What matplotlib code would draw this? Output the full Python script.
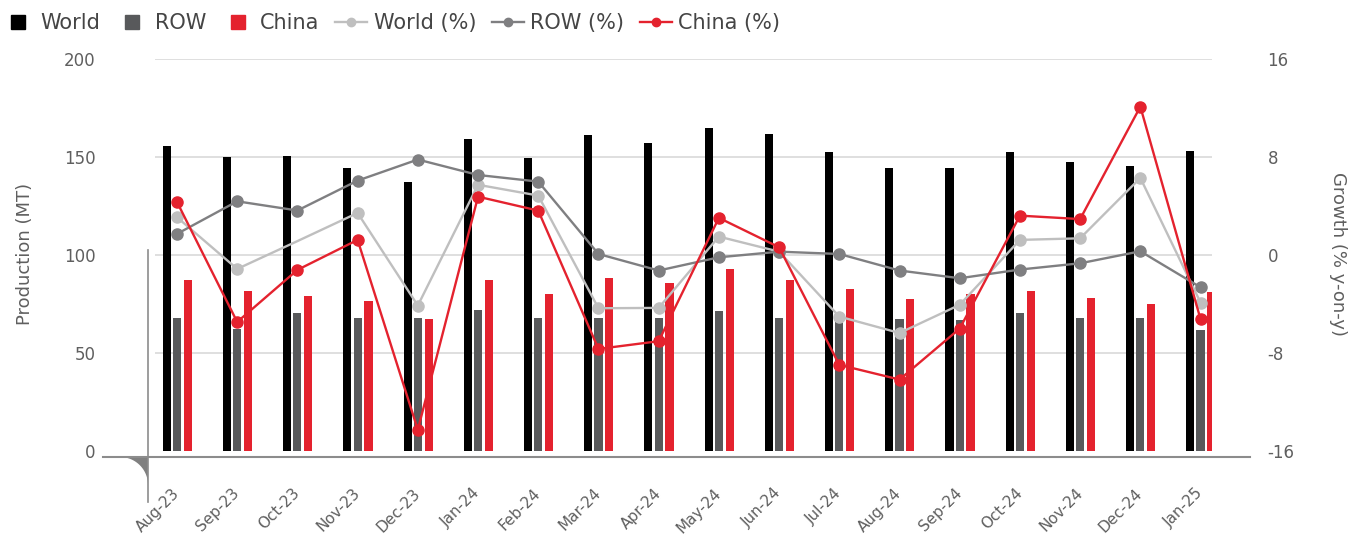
import numpy as np
import matplotlib
matplotlib.use("Agg")
import matplotlib.pyplot as plt
from matplotlib.lines import Line2D
from matplotlib.patches import Polygon

# ---- data -------------------------------------------------------------
months = ["Aug-23", "Sep-23", "Oct-23", "Nov-23", "Dec-23", "Jan-24", "Feb-24",
          "Mar-24", "Apr-24", "May-24", "Jun-24", "Jul-24", "Aug-24", "Sep-24",
          "Oct-24", "Nov-24", "Dec-24", "Jan-25"]

# production, MT
world_prod = [155.4, 149.8, 150.3, 144.2, 137.1, 159.0, 149.3, 161.0, 156.9,
              164.5, 161.5, 152.3, 144.2, 144.2, 152.3, 147.2, 145.2, 152.8]
row_prod = [67.9, 61.8, 70.4, 67.9, 67.9, 71.5, 67.9, 67.9, 67.9,
            71.0, 67.9, 70.4, 66.9, 66.4, 70.0, 67.9, 67.9, 61.3]
china_prod = [87.2, 81.6, 79.1, 76.5, 66.9, 87.2, 80.1, 88.2, 85.7,
              92.8, 87.2, 82.6, 77.5, 80.1, 81.6, 78.0, 75.0, 81.1]

# growth, % y-on-y
world_growth = [3.05, -1.17, 1.1, 3.4, -4.16, 5.7, 4.82, -4.38, -4.35,
                1.47, 0.24, -5.06, -6.4, -4.1, 1.2, 1.33, 6.26, -3.92]
row_growth = [1.69, 4.35, 3.6, 6.04, 7.76, 6.5, 5.96, 0.05, -1.3,
              -0.22, 0.24, 0.05, -1.3, -1.93, -1.22, -0.71, 0.27, -2.67]
china_growth = [4.3, -5.5, -1.25, 1.2, -14.3, 4.73, 3.59, -7.7, -7.07,
                3.0, 0.6, -9.0, -10.2, -6.04, 3.18, 2.9, 12.08, -5.28]

prod_ticks = [0, 50, 100, 150, 200]
growth_ticks = [-16, -8, 0, 8, 16]

# ---- style --------------------------------------------------------------
C_WORLD = "#000000"
C_ROW = "#58595b"
C_CHINA = "#e4222e"
C_WORLD_L = "#bfbfbf"
C_ROW_L = "#7f7f81"
C_TEXT = "#5f5f5f"
C_AXIS = "#8c8c8c"
C_GRID = "#d9d9d9"

plt.rcParams["font.family"] = ["DejaVu Sans"]
plt.rcParams["axes.unicode_minus"] = False

W, H = 1354, 537
fig = plt.figure(figsize=(W / 100, H / 100), dpi=100)


def fx(px):
    return px / W


def fy(py):
    return 1 - py / H


ax = fig.add_axes([fx(155), fy(450.6), (1212 - 155) / W, 392 / H])
ax2 = ax.twinx()
ax.set_zorder(1)
ax2.set_zorder(2)
ax.patch.set_visible(False)
ax2.patch.set_visible(False)

x = np.arange(len(months))
bw = 0.135
ax.bar(x - 0.17, world_prod, bw, color=C_WORLD, zorder=3)
ax.bar(x, row_prod, bw, color=C_ROW, zorder=3)
ax.bar(x + 0.18, china_prod, bw, color=C_CHINA, zorder=3)

for v in prod_ticks[1:]:
    ax.axhline(v, color=C_GRID, lw=1.2, zorder=0)

lw, ms = 1.7, 8
ax2.plot(x, world_growth, color=C_WORLD_L, lw=lw, marker="o", ms=ms,
         markevery=[i for i in range(len(months)) if i != 2], zorder=3)
ax2.plot(x, row_growth, color=C_ROW_L, lw=lw, marker="o", ms=ms, zorder=4)
ax2.plot(x, china_growth, color=C_CHINA, lw=lw, marker="o", ms=ms, zorder=5)

ax.set_xlim(-0.365, 17.19)
ax.set_ylim(0, 200)
ax2.set_ylim(-16, 16)
ax.set_yticks(prod_ticks)
ax2.set_yticks(growth_ticks)
ax.set_xticks(x)
ax.set_xticklabels(months, rotation=45, ha="right", va="center",
                   rotation_mode="anchor")

for a in (ax, ax2):
    for s in a.spines.values():
        s.set_visible(False)
ax.tick_params(axis="y", length=0, pad=43, labelsize=12, labelcolor=C_TEXT)
ax2.tick_params(axis="y", length=0, pad=40, labelsize=12, labelcolor=C_TEXT)
ax.tick_params(axis="x", length=0, pad=29, labelsize=11, labelcolor=C_TEXT)

fig.text(fx(25), fy(254), "Production (MT)", rotation=90, ha="center",
         va="center", fontsize=13, color=C_TEXT)
fig.text(fx(1338), fy(254), "Growth (% y-on-y)", rotation=270, ha="center",
         va="center", fontsize=13, color=C_TEXT)

# axis frame pieces: base line, short left rule and corner fillet
fig.add_artist(Line2D([fx(103), fx(1250)], [fy(457), fy(457)],
                      transform=fig.transFigure, color=C_AXIS, lw=1.5))
fig.add_artist(Line2D([fx(148), fx(148)], [fy(250), fy(502)],
                      transform=fig.transFigure, color=C_AXIS, lw=1.2))
R = 28
cx, cy = 120, 485
t = np.linspace(0, np.pi / 2, 40)
arc = [(fx(cx + R * np.cos(a)), fy(cy - R * np.sin(a))) for a in t]
fillet = [(fx(148), fy(457)), (fx(148), fy(cy))] + arc[1:] + [(fx(cx), fy(457))]
fig.add_artist(Polygon(fillet, closed=True, transform=fig.transFigure,
                       facecolor="#808080", edgecolor="none"))

# legend
handles = [
    Line2D([], [], ls="none", marker="s", ms=9.4, color=C_WORLD),
    Line2D([], [], ls="none", marker="s", ms=9.4, color=C_ROW),
    Line2D([], [], ls="none", marker="s", ms=9.4, color=C_CHINA),
    Line2D([], [], color=C_WORLD_L, lw=lw, marker="o", ms=6),
    Line2D([], [], color=C_ROW_L, lw=lw, marker="o", ms=6),
    Line2D([], [], color=C_CHINA, lw=lw, marker="o", ms=6),
]
labels = ["World", "ROW", "China", "World (%)", "ROW (%)", "China (%)"]
leg = fig.legend(handles, labels, loc="center left",
                 bbox_to_anchor=(fx(2), fy(23)), ncol=6, frameon=False,
                 fontsize=15, handlelength=1.55, handletextpad=0.3,
                 columnspacing=0.75, borderpad=0, borderaxespad=0)
for txt in leg.get_texts():
    txt.set_color("#454545")

fig.savefig("out.png", dpi=100)
